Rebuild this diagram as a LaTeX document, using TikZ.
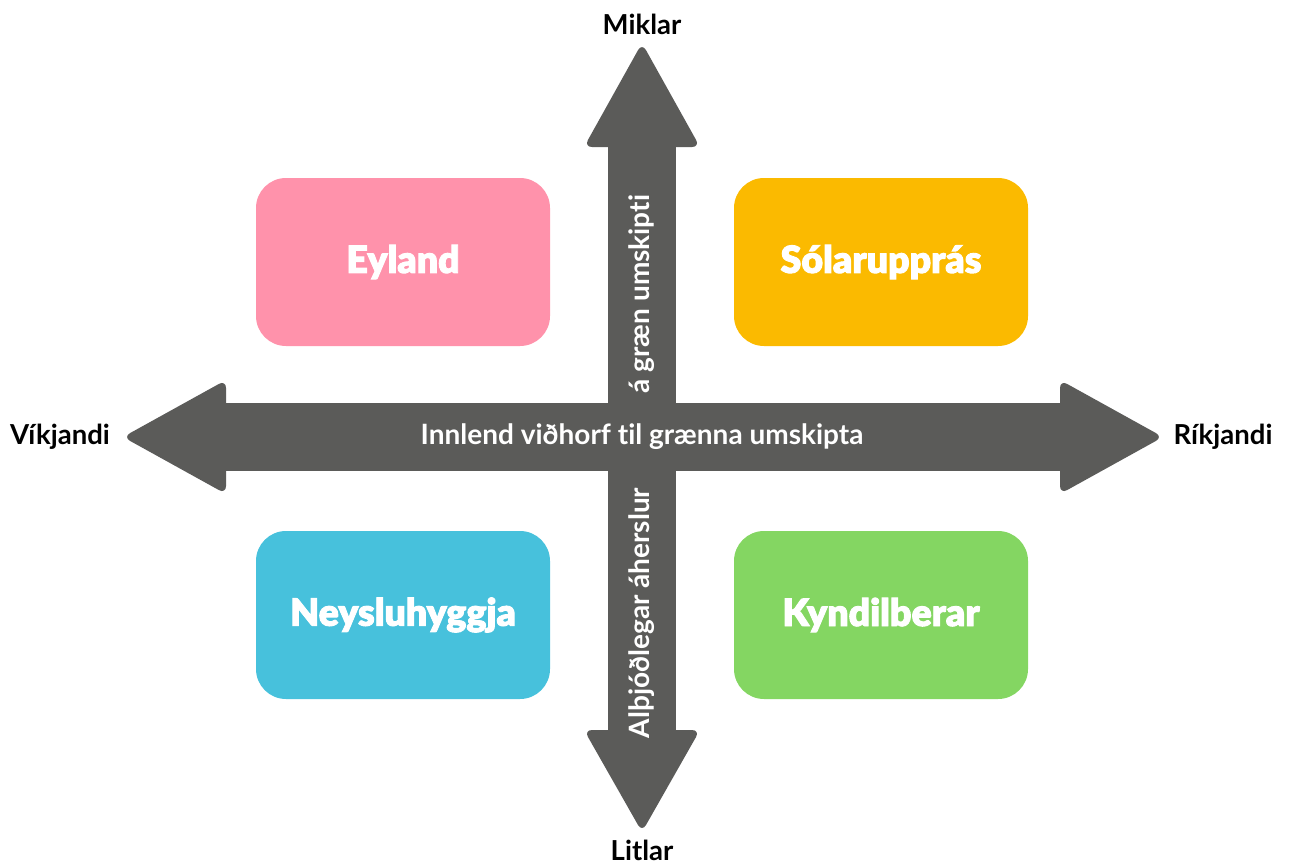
\documentclass[tikz,border=0pt]{standalone}
\usepackage{fontspec}
\setmainfont{Lato}[BoldFont={Lato Bold}, Ligatures=NoCommon]
\newfontfamily\boxfont{Lato Black}[Ligatures=NoCommon, FakeBold=2.5]
\definecolor{arrowgray}{HTML}{5B5B59}
\definecolor{cpink}{HTML}{FF92AB}
\definecolor{corange}{HTML}{FBBA00}
\definecolor{cblue}{HTML}{47C1DC}
\definecolor{cgreen}{HTML}{84D662}
\begin{document}
\begin{tikzpicture}[x=1pt,y=-1pt,
  quad/.style={rounded corners=30pt, minimum width=294pt, minimum height=168pt, inner sep=0pt,
    text=white, font=\boxfont\fontsize{37.5}{44}\selectfont},
  axislabel/.style={font=\bfseries\fontsize{27.5}{32}\selectfont, text=black, inner sep=0pt},
  shafttext/.style={font=\bfseries\fontsize{28}{32}\selectfont, text=white, inner sep=0pt},
  head/.style={fill=arrowgray, rounded corners=8pt}]
\useasboundingbox (0,0) rectangle (1289,864);
% shafts
\fill[arrowgray] (608,140) rectangle (676,737);
\fill[arrowgray] (220,403) rectangle (1066,471);
% heads
\fill[head] (584,147) -- (642,43) -- (700,147) -- cycle;
\fill[head] (584,730) -- (642,832) -- (700,730) -- cycle;
\fill[head] (226,380) -- (123,437) -- (226,494) -- cycle;
\fill[head] (1060,380) -- (1163,437) -- (1060,494) -- cycle;
% quadrant boxes
\node[quad, fill=cpink]   (eyland) at (403,262) {Eyland};
\node[quad, fill=corange] (solar)  at (881,262) {Sólarupprás};
\node[quad, fill=cblue]   (neysla) at (403,615) {Neysluhyggja};
\node[quad, fill=cgreen]  (kyndil) at (881,615) {Kyndilberar};
% axis labels
\node[axislabel] (miklar) at (642,24) {Miklar};
\node[axislabel] (litlar) at (642,850) {Litlar};
\node[axislabel] (vik) at (60,437) {Víkjandi};
\node[axislabel] (rik) at (1223,437) {Ríkjandi};
% shaft texts
\node[shafttext] (htext) at (642,437) {Innlend viðhorf til grænna umskipta};
\node[shafttext, rotate=90] (vtop) at (642,294) {á græn umskipti};
\node[shafttext, rotate=90] (vbot) at (642,613) {Alþjóðlegar áherslur};
\end{tikzpicture}
\end{document}
